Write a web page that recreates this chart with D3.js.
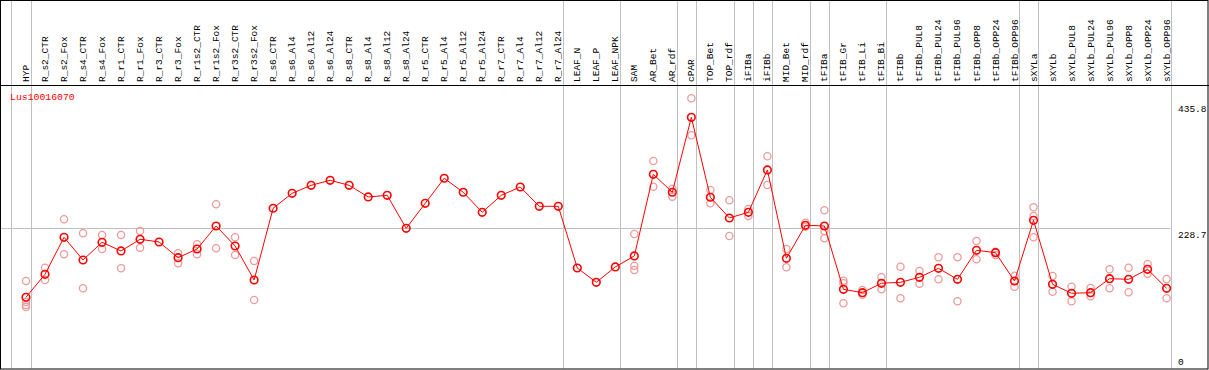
<!DOCTYPE html>
<html>
<head>
<script src="https://d3js.org/d3.v7.min.js"></script>
<style>
  body { margin: 0; background: #fff; }
  svg text { font-family: "Liberation Mono", "DejaVu Sans Mono", monospace; }
</style>
</head>
<body>
<script>

var w = 1209, h = 370;

// sample labels, left to right
var samples = ["HYP","R_s2_CTR","R_s2_Fox","R_s4_CTR","R_s4_Fox","R_r1_CTR","R_r1_Fox","R_r3_CTR","R_r3_Fox",
  "R_r1s2_CTR","R_r1s2_Fox","R_r3s2_CTR","R_r3s2_Fox","R_s6_CTR","R_s6_Al4","R_s6_Al12","R_s6_Al24",
  "R_s8_CTR","R_s8_Al4","R_s8_Al12","R_s8_Al24","R_r5_CTR","R_r5_Al4","R_r5_Al12","R_r5_Al24",
  "R_r7_CTR","R_r7_Al4","R_r7_Al12","R_r7_Al24","LEAF_N","LEAF_P","LEAF_NPK","SAM","AR_Bet","AR_rdf",
  "cPAR","TOP_Bet","TOP_rdf","iFIBa","iFIBb","MID_Bet","MID_rdf","tFIBa","tFIB_Gr","tFIB_Li","tFIB_Bi",
  "tFIBb","tFIBb_PUL8","tFIBb_PUL24","tFIBb_PUL96","tFIBb_OPP8","tFIBb_OPP24","tFIBb_OPP96",
  "sXYLa","sXYLb","sXYLb_PUL8","sXYLb_PUL24","sXYLb_PUL96","sXYLb_OPP8","sXYLb_OPP24","sXYLb_OPP96"];

// last sample of each tissue group (a separator is drawn after it)
var groupEnds = ["HYP","R_r7_Al24","LEAF_NPK","AR_rdf","cPAR","TOP_rdf","iFIBa","iFIBb","MID_rdf",
  "tFIBa","tFIB_Bi","tFIBb_OPP96","sXYLa","sXYLb_OPP96"];

// mean expression per sample
var means = [115.8,153.4,214.0,176.8,205.8,191.6,210.7,206.3,180.6,194.8,232.5,199.7,144.1,
  261.5,286.0,299.1,307.3,299.1,280.0,282.7,228.7,269.6,310.6,287.7,254.9,282.7,296.3,264.7,264.7,
  163.7,140.3,165.4,183.4,317.1,287.7,410.4,279.5,245.6,254.9,324.2,179.6,233.6,232.5,
  128.8,123.3,138.7,140.3,148.5,163.2,145.2,192.7,188.8,142.4,
  241.8,137.0,122.3,123.3,146.2,145.2,161.6,130.5];

// individual replicates per sample
var reps = [
  [142.4,108.1,103.1,99.9],[164.2,144.1],[243.4,186.1],[220.5,130.5],[217.7,194.8],[217.7,163.2],
  [224.3,197.0],[],[187.8,171.4],[202.5,186.1],[268.0,196.0],[214.0,185.0],[175.2,111.3],
  [],[],[],[],[],[],[],[],[],[],[],[],[],[],[],[],[],[],[],
  [219.4,167.5,160.4],[338.9,296.8],[293.6,280.5],[441.6,381.0],[291.4,269.6],[274.6,216.1],
  [260.3,248.9],[346.6,299.6],[194.8,164.9],[237.9,231.3],[258.2,224.3,212.3],
  [142.9,138.7,105.9],[127.7,120.0],[148.5,128.8],[165.8,114.1],[158.8,138.0],[181.2,145.2],
  [181.2,109.2],[207.9,178.0],[190.4,185.0],[151.1,133.1],
  [263.1,248.9,214.0],[150.6,124.9],[133.1,109.2],[131.0,117.4],[161.6,130.5],[164.2,123.9],
  [170.3,154.4],[145.7,114.1]];

var tickVals = [0, 228.7, 435.8];
var gene = "Lus10016070";

var svg = d3.select("body").append("svg").attr("width", w).attr("height", h);

var x = d3.scalePoint().domain(samples).range([26, 1166.6]);
var y = d3.scaleLinear().domain([0, 228.7]).range([368, 228.3]);
var plotRight = 1170.5, headerY = 85.5, bottom = 368.5;

// grid
svg.append("line").attr("x1", 1).attr("x2", plotRight).attr("y1", Math.round(y(228.7)) + 0.5)
  .attr("y2", Math.round(y(228.7)) + 0.5).attr("stroke", "#c0c0c0");

var seps = [x(samples[0]) - 15].concat(groupEnds.map(function(d){ return x(d) + 4.5; }));
svg.selectAll(".sep").data(seps).enter().append("line")
  .attr("x1", function(d){ return Math.round(d) + 0.5; })
  .attr("x2", function(d){ return Math.round(d) + 0.5; })
  .attr("y1", 0).attr("y2", bottom).attr("stroke", "#c0c0c0");

// frame
svg.append("rect").attr("x", 0.5).attr("y", 0.5).attr("width", w - 1.5).attr("height", bottom)
  .attr("fill", "none").attr("stroke", "#000");
svg.append("line").attr("x1", 0).attr("x2", w).attr("y1", headerY).attr("y2", headerY).attr("stroke", "#000");

// column labels
svg.selectAll(".lab").data(samples).enter().append("text")
  .attr("transform", function(d){ return "translate(" + (x(d) + 3) + ",82) rotate(-90)"; })
  .attr("font-size", "9.5px").attr("fill", "#000").text(function(d){ return d; });

// tick labels on the right
svg.selectAll(".tick").data(tickVals).enter().append("text")
  .attr("x", 1178)
  .attr("y", function(d){ return Math.min(y(d) + 10, 365); })
  .attr("font-size", "9.5px").attr("fill", "#000")
  .text(function(d){ return d; });

svg.append("text").attr("x", 10).attr("y", 100).attr("font-size", "9.8px").attr("fill", "red").text(gene);

// replicates
var repPts = [];
reps.forEach(function(r, i){ r.forEach(function(v){ repPts.push({s: samples[i], v: v}); }); });
svg.selectAll(".rep").data(repPts).enter().append("circle")
  .attr("cx", function(d){ return x(d.s); })
  .attr("cy", function(d){ return y(d.v); })
  .attr("r", 3.6).attr("fill", "none").attr("stroke", "#ef9a9a").attr("stroke-width", 1.3);

// mean line + points
var line = d3.line().x(function(d, i){ return x(samples[i]); }).y(function(d){ return y(d); });
svg.append("path").datum(means).attr("d", line).attr("fill", "none").attr("stroke", "red").attr("stroke-width", 1);

svg.selectAll(".mean").data(means).enter().append("circle")
  .attr("cx", function(d, i){ return x(samples[i]); })
  .attr("cy", function(d){ return y(d); })
  .attr("r", 3.8).attr("fill", "none").attr("stroke", "red").attr("stroke-width", 1.6);

</script>
</body>
</html>
